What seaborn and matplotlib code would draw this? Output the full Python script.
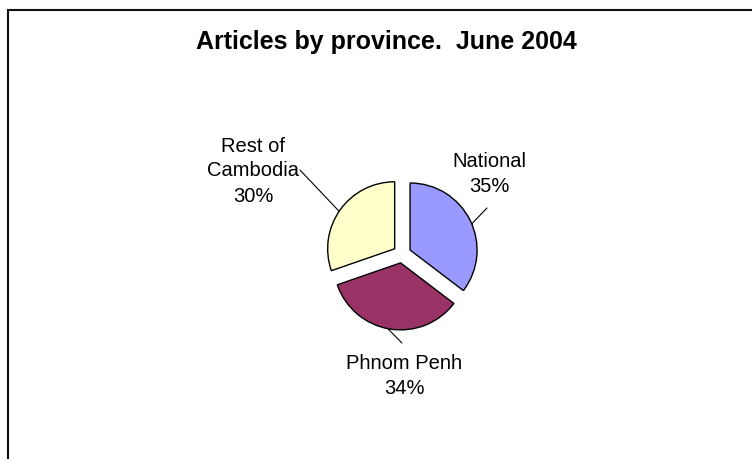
import numpy as np
import matplotlib
matplotlib.use("Agg")
import matplotlib.pyplot as plt
import seaborn as sns
from matplotlib.patches import Rectangle

# data
labels = ["National", "Phnom Penh", "Rest of\nCambodia"]
shares = [35, 34, 30]
colors = ["#9999FF", "#993366", "#FFFFCC"]

# label placement (pixel coords, origin bottom-left) and leader-line angles on the arc
label_pos = [(489, 285), (404, 83), (253, 288)]
leader_angle = [23, -101, 146]
leader_end = [(487, 251), (402, 116), (300, 289)]

sns.set_theme(style="white")
plt.rcParams['font.family'] = ['Liberation Sans', 'DejaVu Sans']
plt.rcParams['text.color'] = 'black'

fig = plt.figure(figsize=(7.52, 4.59), dpi=100)
ax = fig.add_axes([0, 0, 1, 1])

# chart frame (runs off the right and bottom of the picture)
fig.patches.append(Rectangle((8 / 752, -0.1), 1.2, (459 - 10) / 459 + 0.1,
                             transform=fig.transFigure, fill=False,
                             edgecolor='#111111', linewidth=1.5))

# explode is in data units here (radius is in pixels)
wedges, _ = ax.pie(shares, colors=colors, startangle=90, counterclock=False,
                   center=(402, 205), radius=67, explode=[9] * 3,
                   wedgeprops={'edgecolor': 'black', 'linewidth': 1.0},
                   frame=True)
ax.set_xlim(0, 752)
ax.set_ylim(0, 459)
ax.set_aspect('equal')
ax.axis('off')

total = sum(shares)
for w, lab, val, pos, ang, end in zip(wedges, labels, shares, label_pos,
                                      leader_angle, leader_end):
    cx, cy = w.center
    r = w.r
    px = cx + r * np.cos(np.radians(ang))
    py = cy + r * np.sin(np.radians(ang))
    ax.plot([px, end[0]], [py, end[1]], color='black', linewidth=0.8)
    ax.text(pos[0], pos[1], f"{lab}\n{round(100 * val / total):d}%",
            ha='center', va='center', fontsize=14.5, linespacing=1.4,
            color='black')

ax.text(386, 417, "Articles by province.  June 2004", ha='center', va='center',
        fontsize=18, fontweight='bold', color='black')

fig.savefig("out.png", dpi=100)
